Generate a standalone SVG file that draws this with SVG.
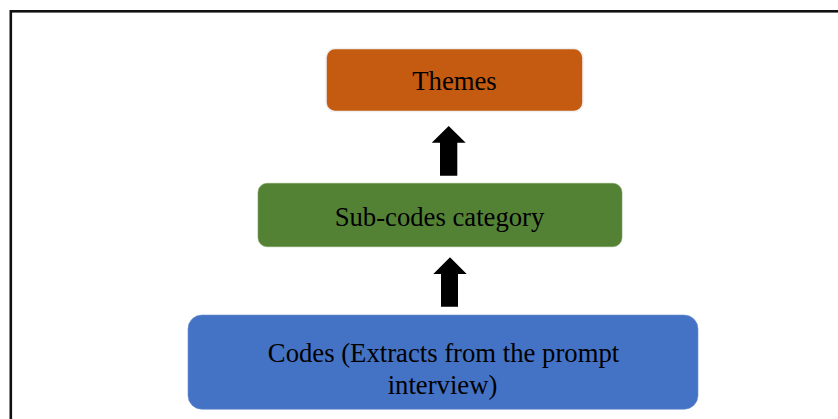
<svg xmlns="http://www.w3.org/2000/svg" width="838" height="419" viewBox="0 0 838 419">
  <style>
    .label { font-family: "Liberation Serif", "Times New Roman", serif; font-size: 26.7px; fill: #000; text-anchor: middle; }
    .arrow { fill: #000; }
  </style>
  <rect x="0" y="0" width="838" height="419" fill="#fff"/>
  <!-- outer frame (runs off the right and bottom edges) -->
  <rect x="10.8" y="11.3" width="840" height="420" fill="none" stroke="#111" stroke-width="2.6"/>

  <g id="themes">
    <rect x="326" y="48.5" width="257" height="63" rx="9" fill="#C55A11" stroke="#f0f0f0" stroke-width="1.6"/>
    <text class="label" x="454.5" y="89.5">Themes</text>
  </g>

  <g id="subcodes">
    <rect x="258" y="183.3" width="364" height="63.4" rx="9" fill="#548235" stroke="#7ea064" stroke-width="0.6"/>
    <text class="label" x="439.5" y="226.2">Sub-codes category</text>
  </g>

  <g id="codes">
    <rect x="188" y="315" width="510" height="94.3" rx="14" fill="#4472C4" stroke="#6d90d0" stroke-width="0.6"/>
    <text class="label" x="443.5" y="361.6">Codes (Extracts from the prompt</text>
    <text class="label" x="442.5" y="393.8">interview)</text>
  </g>

  <g id="connectors">
    <polygon class="arrow" points="448.7,126 465.7,142.7 457.3,142.7 457.3,175.7 440,175.7 440,142.7 431.7,142.7"/>
    <polygon class="arrow" points="450,257.3 466.7,274 458,274 458,306.7 441,306.7 441,274 433.3,274"/>
  </g>
</svg>
